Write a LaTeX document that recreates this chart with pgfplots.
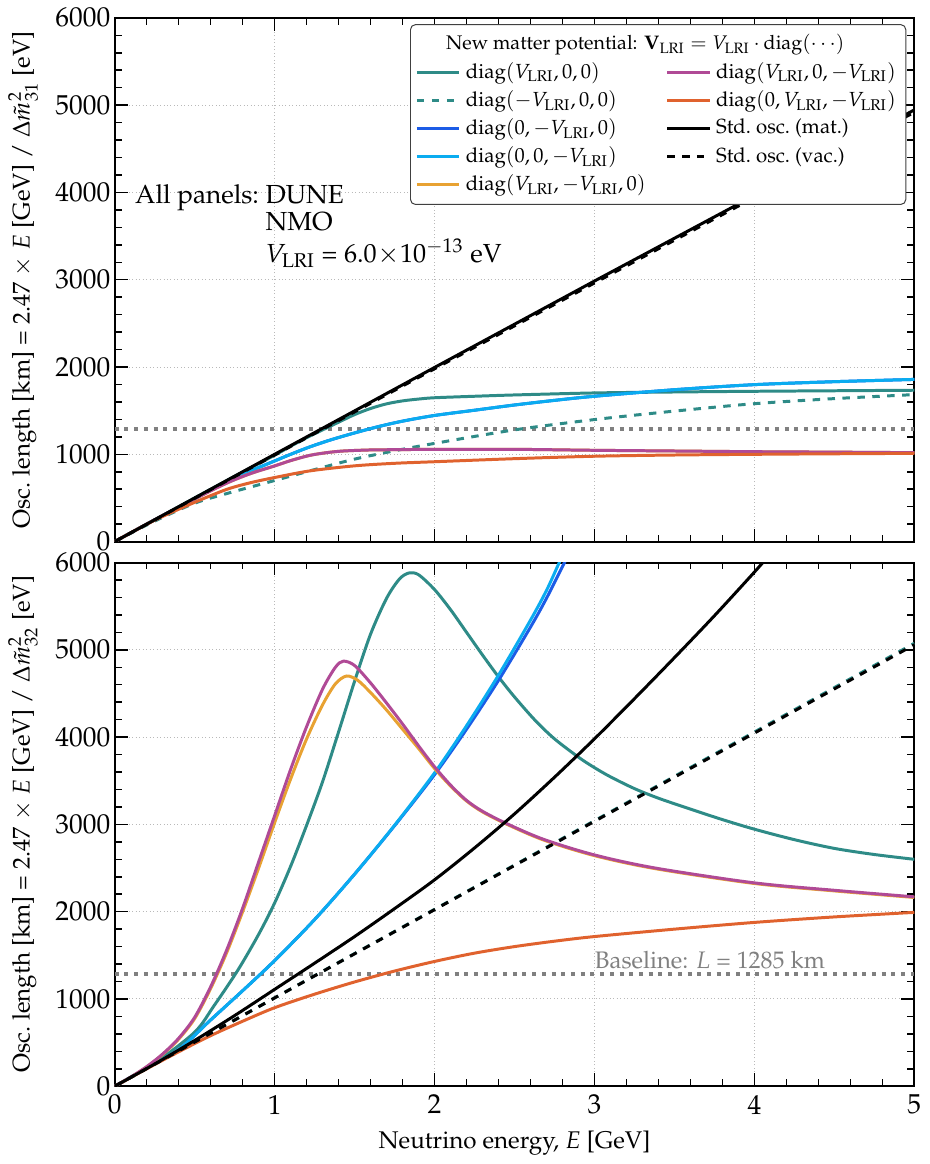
\documentclass[border=0pt]{standalone}
\usepackage[T1]{fontenc}
\usepackage{mathpazo}
\usepackage{pgfplots}
\pgfplotsset{compat=1.18}
\definecolor{cteal}{RGB}{46,139,135}
\definecolor{cblue}{RGB}{28,92,230}
\definecolor{ccyan}{RGB}{10,172,240}
\definecolor{corange}{RGB}{232,162,50}
\definecolor{cmag}{RGB}{176,74,150}
\definecolor{cred}{RGB}{224,98,46}
\definecolor{cbase}{RGB}{128,128,128}
\pgfplotsset{
  oscstyle/.style={
    scale only axis, width=321.2pt, height=210.4pt,
    xmin=0,xmax=5,ymin=0,ymax=6000,
    xtick={0,1,2,3,4,5}, ytick={0,1000,2000,3000,4000,5000,6000},
    minor x tick num=4, minor y tick num=4,
    tick align=inside, xtick pos=both, ytick pos=both,
    major tick length=5.2pt, minor tick length=2.8pt,
    grid=major, major grid style={densely dotted, gray!55, line width=0.4pt},
    axis line style={line width=0.8pt},
    every tick/.style={black, line width=0.6pt},
    tick label style={font=\fontsize{11}{13}\selectfont},
    label style={font=\fontsize{9.7}{11}\selectfont},
    scaled ticks=false,
    yticklabel style={/pgf/number format/1000 sep={}, inner xsep=1.6pt},
    ylabel style={at={(axis description cs:-0.1146,0.5)}, anchor=center},
    every axis plot/.append style={line width=1.2pt},
  }
}
\begin{document}
\begin{tikzpicture}
%================ TOP PANEL ================
\begin{axis}[oscstyle, name=top, at={(0,0)}, anchor=south west,
  xticklabels={},
  ylabel={Osc.\ length [km] = 2.47 $\times$ $E$ [GeV] / $\Delta\tilde{m}^2_{31}$ [eV]},
  legend columns=2,
  legend style={at={(0.99,0.988)}, anchor=north east, draw=black!75, rounded corners=2pt,
    fill=white, font=\fontsize{8.2}{9.5}\selectfont, cells={anchor=west}, row sep=-0.6pt,
    inner sep=2pt, /tikz/column 2/.style={column sep=6pt}},
]
\addplot[cbase, line width=1.6pt, dash pattern=on 1.6pt off 2.3pt, forget plot] coordinates {(0,1285)(5,1285)};

% legend (row-wise order)
\addlegendimage{empty legend}
\addlegendentry{\makebox[0pt][l]{\hspace*{-8pt}\fontsize{7.9}{9}\selectfont New matter potential: $\mathbf{V}_{\mathrm{LRI}} = V_{\mathrm{LRI}}\cdot\mathrm{diag}(\cdots)$}}
\addlegendimage{empty legend}
\addlegendentry{}
\addlegendimage{cteal, line width=1.2pt}
\addlegendentry{$\mathrm{diag}(V_{\mathrm{LRI}}, 0, 0)$}
\addlegendimage{cmag, line width=1.2pt}
\addlegendentry{$\mathrm{diag}(V_{\mathrm{LRI}}, 0, -V_{\mathrm{LRI}})$}
\addlegendimage{cteal, dashed, line width=1.2pt}
\addlegendentry{$\mathrm{diag}(-V_{\mathrm{LRI}}, 0, 0)$}
\addlegendimage{cred, line width=1.2pt}
\addlegendentry{$\mathrm{diag}(0, V_{\mathrm{LRI}}, -V_{\mathrm{LRI}})$}
\addlegendimage{cblue, line width=1.2pt}
\addlegendentry{$\mathrm{diag}(0, -V_{\mathrm{LRI}}, 0)$}
\addlegendimage{black, line width=1.2pt}
\addlegendentry{Std.\ osc.\ (mat.)}
\addlegendimage{ccyan, line width=1.2pt}
\addlegendentry{$\mathrm{diag}(0, 0, -V_{\mathrm{LRI}})$}
\addlegendimage{black, dashed, line width=1.2pt}
\addlegendentry{Std.\ osc.\ (vac.)}
\addlegendimage{corange, line width=1.2pt}
\addlegendentry{$\mathrm{diag}(V_{\mathrm{LRI}}, -V_{\mathrm{LRI}}, 0)$}

% teal solid
\addplot[cteal, smooth, forget plot] coordinates {(0,0)(0.25,250)(0.5,500)(0.75,748)(1.0,990)(1.1,1093)(1.2,1190)(1.3,1280)(1.4,1368)(1.5,1455)(1.6,1525)(1.7,1578)(1.8,1612)(1.9,1633)(2.0,1648)(2.25,1665)(2.5,1680)(3.0,1703)(3.5,1714)(4.0,1722)(4.5,1728)(5.0,1734)};
% teal dashed
\addplot[cteal, dashed, smooth, forget plot] coordinates {(0,0)(0.25,235)(0.5,440)(0.7,550)(1.0,700)(1.25,825)(1.5,945)(1.75,1040)(2.0,1125)(2.5,1280)(3.0,1398)(3.5,1495)(4.0,1580)(4.5,1638)(5.0,1684)};
% blue
\addplot[cblue, smooth, forget plot] coordinates {(0,0)(0.25,250)(0.5,488)(0.7,690)(0.85,810)(1.0,924)(1.1,1000)(1.22,1085)(1.35,1165)(1.5,1245)(1.65,1318)(1.8,1380)(2.0,1445)(2.25,1505)(2.5,1565)(2.75,1618)(3.0,1665)(3.5,1740)(4.0,1798)(4.5,1832)(5.0,1858)};
% cyan
\addplot[ccyan, smooth, forget plot] coordinates {(0,0)(0.25,250)(0.5,488)(0.7,690)(0.85,810)(1.0,924)(1.1,1000)(1.22,1085)(1.35,1165)(1.5,1245)(1.65,1318)(1.8,1380)(2.0,1445)(2.25,1505)(2.5,1565)(2.75,1618)(3.0,1665)(3.5,1740)(4.0,1798)(4.5,1832)(5.0,1858)};
% orange
\addplot[corange, smooth, forget plot] coordinates {(0,0)(0.25,250)(0.5,490)(0.7,670)(0.85,780)(1.0,867)(1.1,928)(1.22,988)(1.33,1020)(1.43,1038)(1.6,1050)(1.75,1053)(2.0,1057)(2.5,1057)(3.0,1046)(3.5,1038)(4.0,1030)(4.5,1025)(5.0,1019)};
% magenta
\addplot[cmag, smooth, forget plot] coordinates {(0,0)(0.25,250)(0.5,490)(0.7,670)(0.85,780)(1.0,867)(1.1,928)(1.22,988)(1.33,1020)(1.43,1038)(1.6,1050)(1.75,1053)(2.0,1057)(2.5,1057)(3.0,1046)(3.5,1038)(4.0,1030)(4.5,1025)(5.0,1019)};
% red-orange
\addplot[cred, smooth, forget plot] coordinates {(0,0)(0.25,245)(0.5,450)(0.7,598)(0.85,675)(1.0,734)(1.22,810)(1.5,868)(1.75,897)(2.0,915)(2.5,950)(3.0,978)(3.5,992)(4.0,1000)(4.5,1006)(5.0,1011)};
% std mat
\addplot[black, forget plot] coordinates {(0,0)(1,1000)(2,1995)(3,2985)(4,3965)(5,4945)};
% std vac
\addplot[black, dashed, forget plot] coordinates {(0,0)(1,992)(2,1980)(3,2963)(4,3942)(5,4918)};

\node[anchor=north west, inner sep=0pt, font=\fontsize{10.5}{11}\selectfont] at (axis cs:0.125,4100)
  {\begin{tabular}{@{}l@{\ }l@{}}All panels: & DUNE\\ & NMO\\ & $V_{\mathrm{LRI}}$ = $6.0\!\times\!10^{-13}$ eV\end{tabular}};
\end{axis}

%================ BOTTOM PANEL ================
\begin{axis}[oscstyle, at={(0pt,-8.4pt)}, anchor=north west,
  xlabel={Neutrino energy, $E$ [GeV]},
  ylabel={Osc.\ length [km] = 2.47 $\times$ $E$ [GeV] / $\Delta\tilde{m}^2_{32}$ [eV]},
]
\addplot[cbase, line width=1.6pt, dash pattern=on 1.6pt off 2.3pt, forget plot] coordinates {(0,1285)(5,1285)};
% teal solid
\addplot[cteal, smooth] coordinates {(0,0)(0.25,265)(0.5,620)(0.62,920)(0.77,1330)(0.9,1740)(1.0,2100)(1.1,2520)(1.2,2990)(1.3,3490)(1.4,4060)(1.5,4640)(1.6,5180)(1.7,5590)(1.78,5810)(1.84,5880)(1.9,5860)(2.0,5690)(2.1,5460)(2.2,5200)(2.3,4940)(2.4,4690)(2.5,4460)(2.63,4190)(2.75,3980)(2.9,3770)(3.0,3650)(3.1,3545)(3.25,3410)(3.4,3300)(3.6,3175)(3.8,3055)(4.0,2945)(4.25,2825)(4.5,2725)(4.75,2655)(5.0,2600)};
% teal dashed
\addplot[cteal, dashed] coordinates {(0,0)(1,1013)(2,2027)(3,3042)(4,4058)(5,5075)};
% blue
\addplot[cblue, smooth] coordinates {(0,0)(0.2,210)(0.4,420)(0.6,760)(0.8,1095)(1.0,1440)(1.25,1910)(1.5,2430)(1.75,2985)(2.0,3570)(2.2,4090)(2.4,4650)(2.6,5260)(2.7,5590)(2.81,5990)(2.85,6130)};
% cyan
\addplot[ccyan, smooth] coordinates {(0,0)(0.2,210)(0.4,420)(0.6,760)(0.8,1095)(1.0,1440)(1.25,1910)(1.5,2430)(1.75,2990)(2.0,3590)(2.2,4130)(2.4,4710)(2.6,5340)(2.7,5680)(2.77,5960)(2.8,6080)};
% orange
\addplot[corange, smooth] coordinates {(0,0)(0.1,104)(0.2,222)(0.3,365)(0.4,540)(0.5,775)(0.6,1120)(0.7,1530)(0.8,2000)(0.9,2500)(1.0,3020)(1.1,3520)(1.2,3980)(1.3,4370)(1.38,4610)(1.45,4700)(1.52,4650)(1.6,4510)(1.7,4310)(1.8,4090)(1.9,3870)(2.0,3640)(2.1,3440)(2.2,3268)(2.3,3143)(2.45,3003)(2.68,2822)(3.0,2642)(3.38,2493)(4.0,2323)(4.5,2238)(5.0,2163)};
% magenta
\addplot[cmag, smooth] coordinates {(0,0)(0.1,105)(0.2,225)(0.3,370)(0.4,550)(0.5,790)(0.6,1140)(0.7,1560)(0.8,2040)(0.9,2570)(1.0,3100)(1.1,3630)(1.2,4120)(1.3,4550)(1.38,4800)(1.43,4870)(1.5,4820)(1.6,4620)(1.7,4390)(1.8,4150)(1.9,3900)(2.0,3660)(2.1,3450)(2.2,3275)(2.3,3150)(2.45,3010)(2.68,2830)(3.0,2650)(3.38,2500)(4.0,2330)(4.5,2245)(5.0,2170)};
% red-orange
\addplot[cred, smooth] coordinates {(0,0)(0.2,200)(0.4,395)(0.6,580)(0.8,745)(1.0,900)(1.25,1055)(1.5,1195)(1.75,1320)(2.0,1430)(2.25,1525)(2.5,1600)(2.75,1662)(3.0,1715)(3.5,1800)(4.0,1877)(4.5,1940)(5.0,1992)};
% std mat
\addplot[black, smooth] coordinates {(0,0)(0.25,255)(0.5,525)(0.75,810)(1.0,1110)(1.25,1410)(1.5,1715)(1.75,2035)(2.0,2365)(2.25,2730)(2.5,3120)(2.75,3540)(3.0,3980)(3.25,4440)(3.5,4910)(3.75,5390)(4.0,5890)(4.1,6100)};
% std vac
\addplot[black, dashed] coordinates {(0,0)(1,1012)(2,2023)(3,3035)(4,4046)(5,5058)};

\node[anchor=base west, inner sep=0pt, text=cbase, font=\fontsize{9.6}{11}\selectfont] at (axis cs:3.0,1350) {Baseline: $L$ = 1285 km};
\end{axis}
\end{tikzpicture}
\end{document}
